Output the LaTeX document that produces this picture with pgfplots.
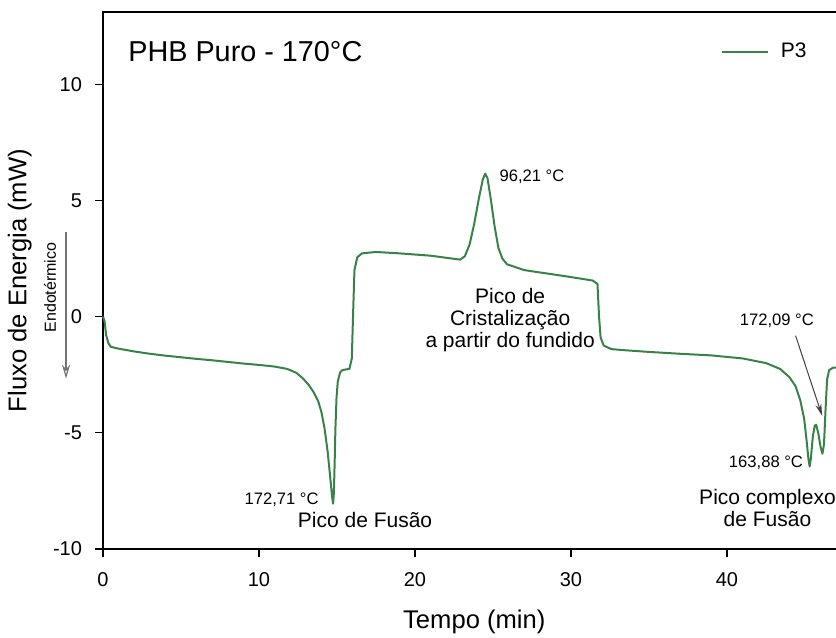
\documentclass[border=0pt]{standalone}
\usepackage{fontspec}
\setmainfont{Liberation Sans}
\usepackage{pgfplots}
\pgfplotsset{compat=1.18}
\usetikzlibrary{arrows.meta}
\definecolor{curve}{RGB}{56,130,72}

\pgfplotstableread{
t v
0.00 0.00
0.10 -0.20
0.20 -0.80
0.35 -1.15
0.50 -1.30
1.00 -1.38
2.00 -1.50
3.00 -1.60
4.00 -1.68
5.00 -1.75
6.00 -1.82
7.00 -1.88
8.00 -1.95
9.00 -2.02
10.00 -2.08
11.00 -2.15
11.80 -2.25
12.40 -2.42
12.80 -2.65
13.20 -2.95
13.50 -3.25
13.80 -3.65
14.00 -4.10
14.20 -4.80
14.40 -5.80
14.55 -6.80
14.68 -7.70
14.75 -8.05
14.80 -7.60
14.85 -6.30
14.90 -4.80
14.97 -3.50
15.05 -2.80
15.20 -2.40
15.35 -2.30
15.80 -2.25
15.95 -1.80
16.05 0.50
16.12 2.00
16.30 2.55
16.60 2.72
17.50 2.78
19.00 2.72
21.00 2.62
22.90 2.45
23.20 2.60
23.50 3.10
23.80 4.00
24.10 5.10
24.35 5.90
24.50 6.15
24.65 5.95
24.85 5.10
25.10 3.90
25.35 2.95
25.60 2.50
25.90 2.25
27.00 2.00
28.50 1.85
30.00 1.70
31.40 1.55
31.70 1.40
31.80 0.00
31.90 -0.90
32.10 -1.25
32.60 -1.40
33.50 -1.45
35.00 -1.52
37.00 -1.60
39.00 -1.67
41.00 -1.80
42.50 -2.00
43.40 -2.25
44.00 -2.60
44.40 -3.00
44.70 -3.60
44.95 -4.40
45.10 -5.30
45.22 -6.10
45.30 -6.45
45.38 -6.10
45.50 -5.20
45.62 -4.70
45.72 -4.65
45.85 -5.00
46.00 -5.60
46.12 -5.90
46.22 -5.50
46.32 -4.00
46.42 -2.70
46.55 -2.30
46.80 -2.20
47.60 -2.20
}\dscdata

\begin{document}
\begin{tikzpicture}
\begin{axis}[
  scale only axis, width=371.3pt, height=268.5pt,
  xmin=0, xmax=47.6, ymin=-10, ymax=13.1,
  xtick={0,10,20,30,40}, xticklabels={0,10,20,30,40},
  ytick={-10,-5,0,5,10}, yticklabels={-10,-5,0,5,10},
  tick align=outside, tick pos=left, major tick length=4pt,
  tick style={black, line width=0.6pt},
  axis line style={line width=0.7pt},
  ticklabel style={font=\fontsize{10}{12}\selectfont},
  yticklabel style={xshift=-3pt},
  xticklabel style={yshift=-4pt},
  xlabel={Tempo (min)}, ylabel={Fluxo de Energia (mW)},
  label style={font=\fontsize{12.8}{15}\selectfont},
  xlabel style={at={(axis description cs:0.5,-0.136)}, anchor=center},
  ylabel style={at={(axis description cs:-0.112,0.5)}, anchor=center},
  clip=false,
  legend style={at={(axis cs:39.2,11.4)}, anchor=west, draw=none, fill=none,
    font=\fontsize{10.5}{12}\selectfont},
  legend image code/.code={\draw[#1] (0pt,0pt) -- (23pt,0pt); \path (27pt,0pt);},
]
\addplot[curve, line width=1pt, line join=round] table[x=t, y=v] {\dscdata};
\addlegendentry{P3}

\node[anchor=west, inner sep=0pt, font=\fontsize{14.4}{17}\selectfont] at (axis cs:1.6,11.4) {PHB Puro - 170°C};
\node[anchor=west, inner sep=0pt, font=\fontsize{8.3}{10}\selectfont] at (axis cs:25.4,6.03) {96,21 °C};
\node[align=center, inner sep=0pt, font=\fontsize{10.5}{11}\selectfont] at (axis cs:26.1,-0.13) {Pico de\\Cristalização\\a partir do fundido};
\node[anchor=east, inner sep=0pt, font=\fontsize{8.3}{10}\selectfont] at (axis cs:13.85,-7.9) {172,71 °C};
\node[inner sep=0pt, font=\fontsize{10.5}{12}\selectfont] at (axis cs:16.8,-8.75) {Pico de Fusão};
\node[inner sep=0pt, font=\fontsize{8.3}{10}\selectfont] at (axis cs:43.2,-0.17) {172,09 °C};
\node[anchor=east, inner sep=0pt, font=\fontsize{8.3}{10}\selectfont] at (axis cs:44.9,-6.3) {163,88 °C};
\node[align=center, inner sep=0pt, font=\fontsize{10.5}{11}\selectfont] at (axis cs:42.6,-8.23) {Pico complexo\\de Fusão};
\draw[black!75, line width=0.5pt, -{Stealth[length=6pt, width=3pt]}] (axis cs:44.4,-0.82) -- (axis cs:46.1,-4.27);
\node[rotate=90, inner sep=0pt, font=\fontsize{8}{10}\selectfont] at (axis cs:-3.4,1.25) {Endotérmico};
\draw[black!55, line width=0.6pt, -{Stealth[open, length=7pt, width=4pt]}] (axis cs:-2.37,3.62) -- (axis cs:-2.37,-2.67);

\coordinate (bbSW) at (axis cs:-6.603,-13.79);
\coordinate (bbNE) at (axis cs:46.99,13.62);
\end{axis}
\pgfresetboundingbox
\path[use as bounding box] (bbSW) rectangle (bbNE);
\end{tikzpicture}
\end{document}
